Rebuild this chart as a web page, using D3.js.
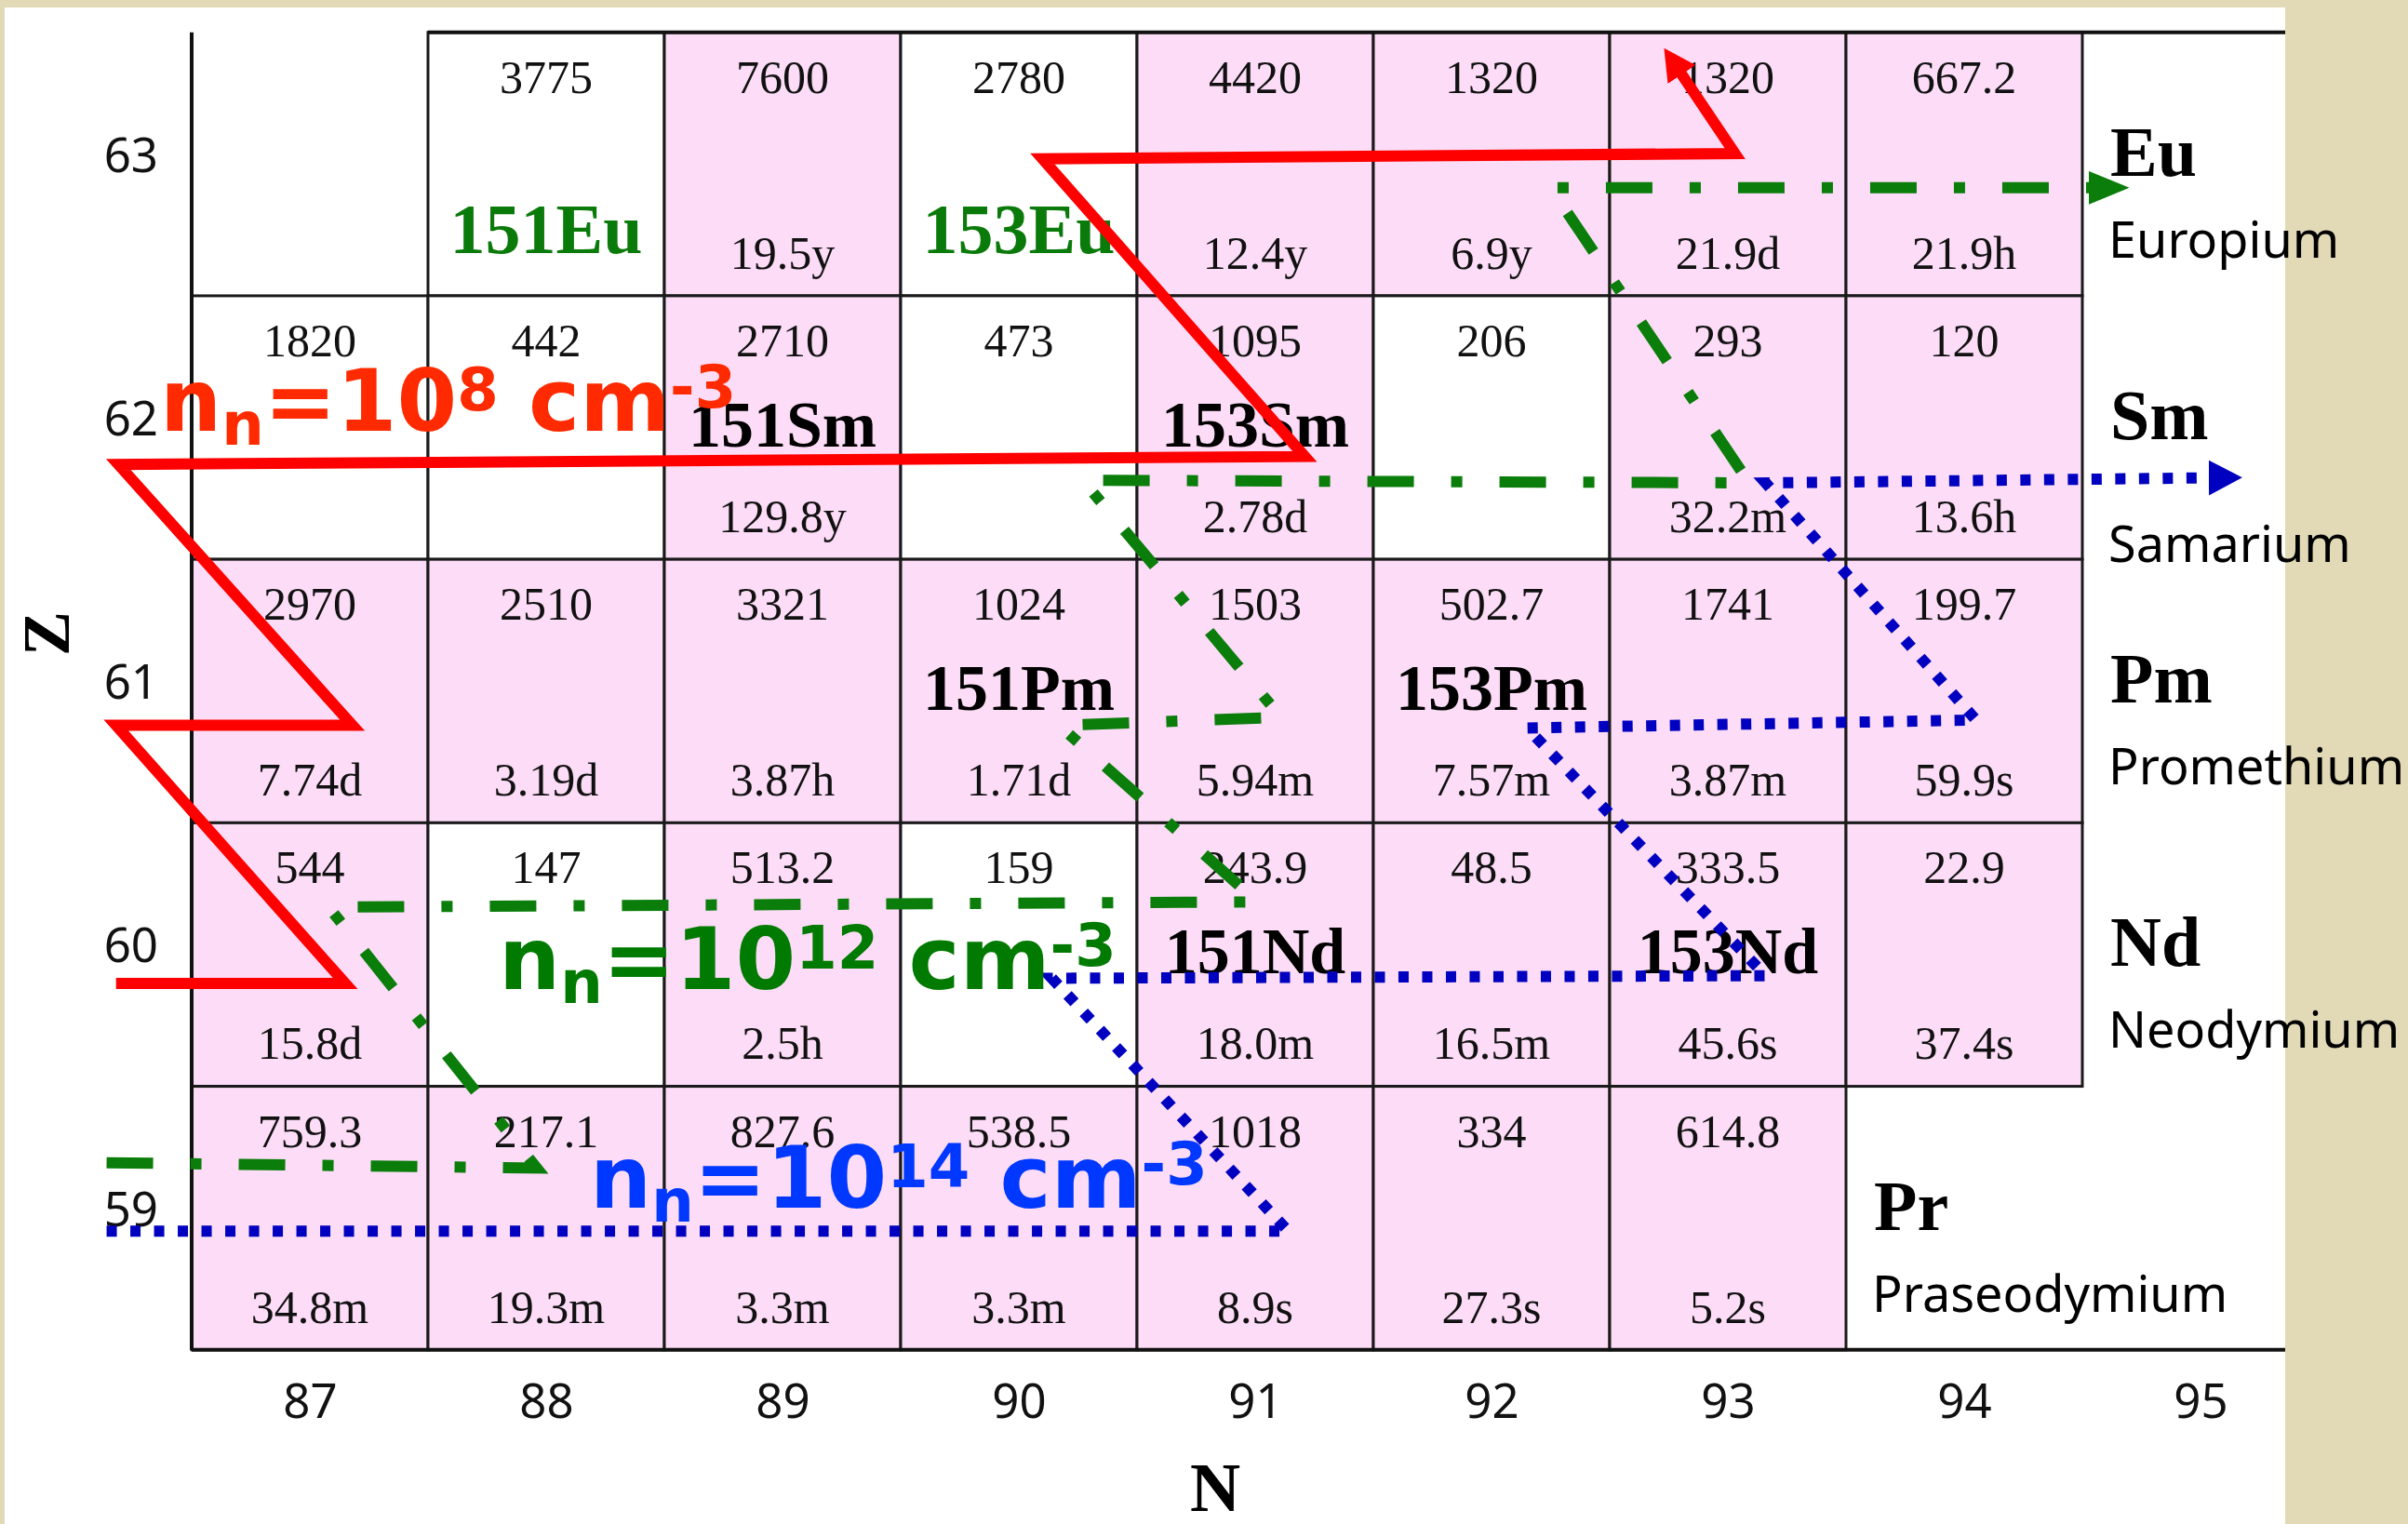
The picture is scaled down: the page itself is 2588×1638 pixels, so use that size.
<!DOCTYPE html>
<html>
<head>
<meta charset="utf-8">
<script src="https://cdn.jsdelivr.net/npm/d3@7"></script>
<style>
  body { margin: 0; background: #e2dab6; }
  svg { display: block; }
  text { white-space: pre; }
</style>
</head>
<body>
<div id="chart"></div>
<script>
// neutron number N (columns) and proton number Z (rows)
var neutrons = [87, 88, 89, 90, 91, 92, 93, 94, 95];
var protons = [63, 62, 61, 60, 59];
var symbols = ["Eu", "Sm", "Pm", "Nd", "Pr"];
var elementNames = ["Europium", "Samarium", "Promethium", "Neodymium", "Praseodymium"];

// capture cross sections, one entry per N starting at 87 (null = no cell)
var sigmaEu = [null, "3775", "7600", "2780", "4420", "1320", "1320", "667.2"];
var sigmaSm = ["1820", "442", "2710", "473", "1095", "206", "293", "120"];
var sigmaPm = ["2970", "2510", "3321", "1024", "1503", "502.7", "1741", "199.7"];
var sigmaNd = ["544", "147", "513.2", "159", "243.9", "48.5", "333.5", "22.9"];
var sigmaPr = ["759.3", "217.1", "827.6", "538.5", "1018", "334", "614.8"];

// half lives (null = stable)
var halfLifeEu = [null, null, "19.5y", null, "12.4y", "6.9y", "21.9d", "21.9h"];
var halfLifeSm = [null, null, "129.8y", null, "2.78d", null, "32.2m", "13.6h"];
var halfLifePm = ["7.74d", "3.19d", "3.87h", "1.71d", "5.94m", "7.57m", "3.87m", "59.9s"];
var halfLifeNd = ["15.8d", null, "2.5h", null, "18.0m", "16.5m", "45.6s", "37.4s"];
var halfLifePr = ["34.8m", "19.3m", "3.3m", "3.3m", "8.9s", "27.3s", "5.2s"];

// isotope names written in the cells
var isotopeEu = [null, "151Eu", null, "153Eu", null, null, null, null];
var isotopeSm = [null, null, "151Sm", null, "153Sm", null, null, null];
var isotopePm = [null, null, null, "151Pm", null, "153Pm", null, null];
var isotopeNd = [null, null, null, null, "151Nd", null, "153Nd", null];
var isotopePr = [null, null, null, null, null, null, null];

// r-process paths as [N, Z] for three neutron densities
var densityExponents = ["8", "12", "14"];
var path1e8 = [[86.18, 59.89], [87.15, 59.89], [86.18, 60.87], [87.18, 60.87], [86.19, 61.86],
               [91.21, 61.89], [90.10, 63.02], [93.03, 63.04], [92.76, 63.40]];
var path1e12 = [[86.14, 59.21], [87.96, 59.19], [87.08, 60.18], [91.01, 60.20], [90.17, 60.87],
                [91.11, 60.90], [90.27, 61.80], [93.09, 61.79], [92.25, 62.91], [94.63, 62.91]];
var path1e14 = [[86.14, 58.95], [91.14, 58.95], [90.14, 59.91], [93.16, 59.92], [92.15, 60.86],
                [94.05, 60.89], [93.16, 61.79], [95.12, 61.81]];

var width = 2588, height = 1638;
var panelRight = 2456;

var x = d3.scaleLinear().domain([86.5, 95.5]).range([206, 206 + 9 * 254]);
var y = d3.scaleLinear().domain([63.5, 58.5]).range([34.7, 1450.8]);
var colW = x(1) - x(0), rowH = y(0) - y(1);

var serif = "'Liberation Serif', 'Times New Roman', serif";
var sans = "'Noto Sans', 'DejaVu Sans', sans-serif";

var svg = d3.select("#chart").append("svg")
    .attr("width", width)
    .attr("height", height);

var defs = svg.append("defs");
function arrow(id, color, len, wid) {
  defs.append("marker")
      .attr("id", id)
      .attr("viewBox", "0 0 10 10")
      .attr("refX", 6).attr("refY", 5)
      .attr("markerUnits", "userSpaceOnUse")
      .attr("markerWidth", len).attr("markerHeight", wid)
      .attr("orient", "auto")
      .attr("preserveAspectRatio", "none")
    .append("path")
      .attr("d", "M0,0L10,5L0,10Z")
      .attr("fill", color);
}
arrow("arr-red", "#ff0000", 34, 36);
arrow("arr-green", "#0a7d0a", 44, 36);
arrow("arr-blue", "#0000c0", 36, 38);

// white sheet
svg.append("rect")
    .attr("x", 5).attr("y", 8)
    .attr("width", panelRight - 5).attr("height", height - 8)
    .attr("fill", "#fff");

var rows = protons.map(function(z, i) {
  return {
    z: z, symbol: symbols[i], name: elementNames[i],
    sigma: [sigmaEu, sigmaSm, sigmaPm, sigmaNd, sigmaPr][i],
    half: [halfLifeEu, halfLifeSm, halfLifePm, halfLifeNd, halfLifePr][i],
    iso: [isotopeEu, isotopeSm, isotopePm, isotopeNd, isotopePr][i]
  };
});

var cells = [];
rows.forEach(function(r) {
  r.sigma.forEach(function(s, i) {
    if (s === null) return;
    cells.push({n: neutrons[i], z: r.z, sigma: s, half: r.half[i], iso: r.iso[i]});
  });
});

var grid = svg.append("g").attr("class", "cells");

var cell = grid.selectAll(".cell")
    .data(cells)
  .enter().append("g")
    .attr("class", "cell")
    .attr("transform", function(d) { return "translate(" + x(d.n - 0.5) + "," + y(d.z + 0.5) + ")"; });

cell.append("rect")
    .attr("width", colW)
    .attr("height", rowH)
    .attr("fill", function(d) { return d.half ? "#fcdcf6" : "#ffffff"; })
    .attr("stroke", "#1a1a1a")
    .attr("stroke-width", 3);

cell.append("text")
    .attr("x", colW / 2).attr("y", 65)
    .attr("text-anchor", "middle")
    .style("font-family", serif).style("font-size", "50px")
    .attr("fill", "#111")
    .text(function(d) { return d.sigma; });

cell.filter(function(d) { return d.half; }).append("text")
    .attr("x", colW / 2).attr("y", 254)
    .attr("text-anchor", "middle")
    .style("font-family", serif).style("font-size", "50px")
    .attr("fill", "#111")
    .text(function(d) { return d.half; });

cell.filter(function(d) { return d.iso; }).append("text")
    .attr("x", colW / 2)
    .attr("y", function(d) { return d.half ? 162 : 237; })
    .attr("text-anchor", "middle")
    .style("font-family", serif).style("font-weight", "bold")
    .style("font-size", function(d) { return d.half ? "70px" : "76px"; })
    .attr("fill", function(d) { return d.half ? "#000" : "#0a7a0a"; })
    .text(function(d) { return d.iso; });

// outer frame lines
var frame = svg.append("g").attr("stroke", "#111").attr("stroke-width", 4);
frame.append("line").attr("x1", x(86.5)).attr("x2", x(86.5)).attr("y1", y(63.5)).attr("y2", y(58.5));
frame.append("line").attr("x1", x(87.5)).attr("x2", panelRight).attr("y1", y(63.5)).attr("y2", y(63.5));
frame.append("line").attr("x1", x(86.5)).attr("x2", panelRight).attr("y1", y(58.5)).attr("y2", y(58.5));

// element symbol and name beside each row
var side = svg.append("g").attr("class", "elements");
rows.forEach(function(r) {
  var col = neutrons[r.sigma.length];
  var top = y(r.z + 0.5);
  side.append("text")
      .attr("x", x(col - 0.5) + 30).attr("y", top + 154)
      .style("font-family", serif).style("font-weight", "bold").style("font-size", "76px")
      .text(r.symbol);
  side.append("text")
      .attr("x", x(col - 0.5) + 28).attr("y", top + (r.symbol === "Sm" ? 286 : 242))
      .style("font-family", sans).style("font-size", "54px")
      .text(r.name);
});

// axes
var xAxis = d3.axisBottom(x).tickValues(neutrons).tickSize(0).tickFormat(d3.format("d"));
var yAxis = d3.axisLeft(y).tickValues(protons).tickSize(0).tickFormat(d3.format("d"));

var gx = svg.append("g")
    .attr("class", "x axis")
    .attr("transform", "translate(0," + y(58.5) + ")")
    .call(xAxis);
gx.select(".domain").remove();
gx.selectAll("text")
    .attr("y", 73).attr("dy", null)
    .attr("fill", "#111")
    .style("font-family", sans).style("font-size", "51px");

var gy = svg.append("g")
    .attr("class", "y axis")
    .attr("transform", "translate(" + x(86.5) + ",0)")
    .call(yAxis);
gy.select(".domain").remove();
gy.selectAll("text")
    .attr("x", -36).attr("y", 8).attr("dy", null)
    .attr("fill", "#111")
    .style("font-family", sans).style("font-size", "51px");

svg.append("text")
    .attr("x", 1306).attr("y", 1624)
    .attr("text-anchor", "middle")
    .style("font-family", serif).style("font-weight", "bold").style("font-size", "75px")
    .text("N");

svg.append("text")
    .attr("transform", "translate(74,681) rotate(-90)")
    .attr("text-anchor", "middle")
    .style("font-family", serif).style("font-weight", "bold").style("font-size", "72px")
    .text("Z");

// r-process paths
var line = d3.line()
    .x(function(d) { return x(d[0]); })
    .y(function(d) { return y(d[1]); });

var paths = svg.append("g").attr("class", "paths").attr("fill", "none");

paths.append("path")
    .datum(path1e8)
    .attr("d", line)
    .attr("stroke", "#ff0000")
    .attr("stroke-width", 12)
    .attr("stroke-linejoin", "miter")
    .attr("marker-end", "url(#arr-red)");

paths.append("path")
    .datum(path1e12)
    .attr("d", line)
    .attr("stroke", "#0a7d0a")
    .attr("stroke-width", 12)
    .attr("stroke-dasharray", "50 40 12 40")
    .attr("marker-end", "url(#arr-green)");

paths.append("path")
    .datum(path1e14)
    .attr("d", line)
    .attr("stroke", "#0000c0")
    .attr("stroke-width", 12)
    .attr("stroke-dasharray", "11 14.5")
    .attr("marker-end", "url(#arr-blue)");

// neutron density labels
function densityLabel(px, py, color, exp) {
  var t = svg.append("text")
      .attr("x", px).attr("y", py)
      .attr("fill", color)
      .style("font-family", "'DejaVu Sans', Verdana, sans-serif")
      .style("font-weight", "bold")
      .style("font-size", "93px");
  t.append("tspan").text("n");
  t.append("tspan").attr("dy", 15).style("font-size", "64px").text("n");
  t.append("tspan").attr("dy", -15).text("=10");
  t.append("tspan").attr("dy", -22).style("font-size", "64px").text(exp);
  t.append("tspan").attr("dy", 22).text(" cm");
  t.append("tspan").attr("dy", -25).style("font-size", "64px").text("-3");
}
densityLabel(172, 463, "#ff2a00", densityExponents[0]);
densityLabel(536, 1063, "#007a00", densityExponents[1]);
densityLabel(634, 1298, "#0038ff", densityExponents[2]);
</script>
</body>
</html>
